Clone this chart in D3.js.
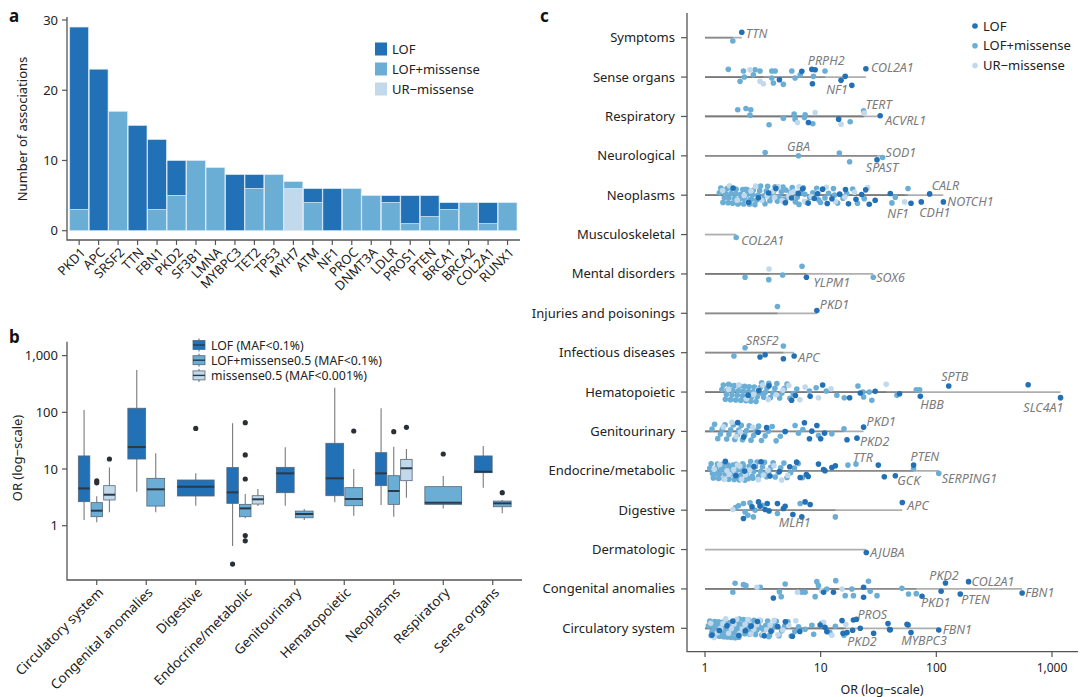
<!DOCTYPE html>
<html><head><meta charset="utf-8">
<script src="https://cdn.jsdelivr.net/npm/d3@7"></script>
<style>body{margin:0;background:#fff;}svg{font-family:"Noto Sans","Liberation Sans",Arial,sans-serif;}</style>
</head><body>
<svg id="fig" width="1080" height="697"></svg>
<script>
// ---------------- Panel a data ----------------
const genesA = ["PKD1","APC","SRSF2","TTN","FBN1","PKD2","SF3B1","LMNA","MYBPC3","TET2","TP53","MYH7","ATM","NF1","PROC","DNMT3A","LDLR","PROS1","PTEN","BRCA1","BRCA2","COL2A1","RUNX1"];
const countLOF    = [26,23,0,15,10,5,0,0,8,2,0,0,2,6,0,0,1,4,3,1,0,3,0];
const countLOFmis = [3,0,17,0,3,5,10,9,0,6,8,1,4,0,6,5,4,1,2,3,4,1,4];
const countURmis  = [0,0,0,0,0,0,0,0,0,0,0,6,0,0,0,0,0,0,0,0,0,0,0];
const ticksA = [0,10,20,30];

// ---------------- Panel b data ----------------
const catsB = ["Circulatory system","Congenital anomalies","Digestive","Endocrine/metabolic","Genitourinary","Hematopoietic","Neoplasms","Respiratory","Sense organs"];
const groupsB = ["LOF (MAF<0.1%)","LOF+missense0.5 (MAF<0.1%)","missense0.5 (MAF<0.001%)"];
// [category, group index, lower whisker, Q1, median, Q3, upper whisker]
const boxesB = [
  ["Circulatory system",0,1.26,2.65,4.55,17,110],
  ["Circulatory system",1,1.15,1.44,1.84,2.55,3.3],
  ["Circulatory system",2,1.72,2.84,3.52,5.08,10.6],
  ["Congenital anomalies",0,3.98,15,24.4,118,558],
  ["Congenital anomalies",1,1.72,2.22,4.38,6.85,18.9],
  ["Digestive",0,2.25,3.34,4.88,6.4,8.4],
  ["Endocrine/metabolic",0,0.44,2.48,3.87,10.6,64],
  ["Endocrine/metabolic",1,1.35,1.44,2.02,2.38,3.62],
  ["Endocrine/metabolic",2,2.22,2.41,2.92,3.38,4.44],
  ["Genitourinary",0,2.25,3.82,8.39,10.7,24.1],
  ["Genitourinary",1,1.26,1.38,1.61,1.81,1.97],
  ["Hematopoietic",0,2.58,3.38,6.85,28.4,272],
  ["Hematopoietic",1,1.5,2.25,2.96,4.69,10],
  ["Neoplasms",0,2.32,5.08,8.39,19.4,118],
  ["Neoplasms",1,1.44,2.38,4.09,7.62,24.8],
  ["Neoplasms",2,3.12,6.22,10.3,14.8,22.5],
  ["Respiratory",1,2.02,2.38,2.55,4.88,7.52],
  ["Sense organs",0,4.69,8.61,8.97,17,25.5],
  ["Sense organs",1,1.65,2.16,2.48,2.72,2.85]
];
// [category, group index, OR]
const outliersB = [
  ["Circulatory system",1,6.2],["Circulatory system",1,5.7],["Circulatory system",2,15.0],
  ["Digestive",0,52],
  ["Endocrine/metabolic",0,0.21],
  ["Endocrine/metabolic",1,65.7],["Endocrine/metabolic",1,17.7],["Endocrine/metabolic",1,6.66],["Endocrine/metabolic",1,0.67],["Endocrine/metabolic",1,0.54],
  ["Hematopoietic",1,46.8],
  ["Neoplasms",1,45.6],["Neoplasms",2,54.3],
  ["Respiratory",1,18.4],
  ["Sense organs",1,3.82]
];
const ticksB = [1,10,100,1000];

// ---------------- Panel c data ----------------
const catsC = ["Symptoms","Sense organs","Respiratory","Neurological","Neoplasms","Musculoskeletal","Mental disorders","Injuries and poisonings","Infectious diseases","Hematopoietic","Genitourinary","Endocrine/metabolic","Digestive","Dermatologic","Congenital anomalies","Circulatory system"];
const typesC = ["LOF","LOF+missense","UR\u2212missense"];
const ticksC = [1,10,100,1000];
// individual points: [OR, type(0 LOF,1 LOF+missense,2 UR-missense), jitter (-1..1), gene label]
const ptsSymptoms = [[1.74,1,0.33],[2.08,0,-0.54,"TTN"]];
const ptsSense = [[1.59,1,-0.77],[2.15,1,-0.6],[2.71,1,-0.73],[2.62,1,-0.23],[2.99,1,-0.6],[3.78,1,-0.6],[4.04,1,-0.6],[2.19,1,0],[2.01,1,0.43],[3.78,1,0.1],[3.9,1,0.6],[4.76,1,0.73],[5.63,1,-0.6],[6.01,1,0.1],[6.65,1,-0.23],[8.66,1,-0.07],[10.9,1,-0.6],
  [2.45,2,-0.73],[2.99,2,0.43],[3.2,2,0.67],
  [4.4,0,0.27],[6.87,0,-0.57],[8.39,0,-0.77,"PRPH2"],[8.96,0,-0.73],[8.49,0,0.67],[15.0,0,0.33],[16.3,0,-0.07],[18.6,0,0.83,"NF1"],[24.6,0,-0.83,"COL2A1"]];
const ptsRespiratory = [[1.92,1,-0.67],[2.26,1,-0.8],[2.49,1,-0.67],[2.45,1,-0.13],[3.58,1,0.83],[4.76,1,0.17],[5.9,1,-0.23],[6.01,1,0.27],[7.34,1,-0.17],[7.24,1,0.1],[8.56,1,0.73],[18.0,1,0.53],[23.5,1,-0.57,"TERT"],
  [6.3,2,0.6],[8.96,2,-0.4],[15.0,2,0.77],[23.8,2,-0.33],
  [7.84,0,0.6],[14.3,0,0.27],[32.7,0,-0.07,"ACVRL1"]];
const ptsNeuro = [[3.31,1,-0.33],[6.43,1,0,"GBA"],[14.5,1,-0.27],[17.8,1,0.6],[34.3,1,0.17,"SOD1"],[30.7,0,0.4,"SPAST"]];
const ptsNeoplasms = [[41.3,1,0.77],[44.2,1,0.2],[56.9,1,-0.67],[53.2,2,0.67],[29.6,0,0.5],[40.0,0,-0.17],[60.4,0,0.8,"NF1"],[74.1,0,0.67,"CDH1"],[87.5,0,-0.13,"CALR"],[115,0,0.67,"NOTCH1"]];
const ptsMusculo = [[1.86,1,0.3,"COL2A1"]];
const ptsMental = [[2.22,1,0.33],[3.58,2,-0.5],[3.56,1,0.57],[4.69,1,0.1],[6.9,1,-0.77],[28.5,1,0.33,"SOX6"],[7.53,0,0.33,"YLPM1"]];
const ptsInjuries = [[4.23,1,-0.67],[9.27,0,-0.27,"PKD1"]];
const ptsInfectious = [[1.78,1,0.33],[2.22,1,-0.5,"SRSF2"],[4.76,1,-0.67],[2.99,0,0.43],[3.31,0,0.2],[4.76,0,0.6],[5.9,0,0.33,"APC"]];
const ptsHemato = [[8.0,1,-0.1],[9.14,1,-0.43],[11.2,1,-0.1],[13.8,1,0.33],[16.0,1,0.57],[21.0,1,-0.6],[23.2,1,0],[23.5,1,0.5],[26.3,1,0],[27.7,1,0.83],[45.7,1,0.33],[67.1,1,-0.23],[71.7,1,-0.23],
  [7.34,2,-0.5],[9.57,2,0.57],[12.3,2,-0.33],[36.9,2,-0.77],
  [8.11,0,0.43],[10.4,0,-0.7],[17.8,0,0.57],[22.0,0,0.1],[29.6,0,-0.07],[48.1,0,0.17],[72.7,0,0.43,"HBB"],[128,0,-0.6,"SPTB"],[622,0,-0.73],[1185,0,0.56,"SLC4A1"]];
const ptsGenito = [[6.01,1,-0.6],[6.43,1,0.17],[7.02,1,-0.2],[9.57,1,0.4],[12.5,1,0.23],[15.9,1,-0.27],
  [4.93,0,0],[7.24,0,-0.87],[8.0,0,0.73],[8.39,0,-0.03],[9.27,0,-0.6],[10.0,0,0.73],[10.8,0,0.17],[16.9,0,0.83],[20.6,0,0.67,"PKD2"],[23.5,0,-0.43,"PKD1"]];
const ptsEndocrine = [[17.2,1,-0.57],[20.2,1,-0.67,"TTR"],[63.6,1,-0.23],[105,1,0.26,"SERPING1"],
  [7.53,0,0.37],[6.65,0,0.67],[9.57,0,-0.67],[10.6,0,-0.13],[10.9,0,0],[12.5,0,-0.33],[13.4,0,-0.5],[31.5,0,-0.57],[35.5,0,0.6],[44.2,0,0.5,"GCK"],[63.6,0,-0.57,"PTEN"]];
const ptsDigestive = [[1.74,2,-0.07],[1.84,1,-0.27],[1.95,1,-0.45],[2.15,1,-0.67],[2.22,1,0.17],[2.35,1,0.5],[2.45,1,-0.73],[2.62,1,0.67],[2.71,1,0],[3.12,1,-0.5],[4.23,1,0.33],[6.65,1,-0.67],[13.4,1,0.67],
  [2.15,0,0.83],[2.55,0,-0.33],[2.99,0,-0.4],[2.9,0,-0.83],[3.31,0,-0.07],[3.45,0,-0.67],[3.58,0,0.07],[4.23,0,-0.67],[4.76,0,-0.17],[4.93,0,-0.4],[5.75,0,0.43],[6.87,0,0.67,"MLH1"],[7.34,0,-0.83],[8.11,0,-0.57],[50.8,0,-0.77,"APC"]];
const ptsDermato = [[24.8,0,0.3,"AJUBA"]];
const ptsCongenital = [[1.74,1,0.33],[1.82,1,-0.57],[2.15,1,-0.43],[2.26,1,-0.33],[3.0,1,-0.17],[4.4,1,0.27],[4.56,1,0.77],[4.93,1,-0.5],[6.87,1,0.33],[7.34,1,0.33],[9.27,1,-0.73],[9.57,1,-0.33],[8.96,1,0.77],[11.3,1,0],[13.5,1,-0.83],[16.3,1,0.67],[18.6,1,0],[19.2,1,0.67],[25.9,1,-0.77],[26.8,1,0.23],[30.7,1,0.67],[50.4,1,-0.06],[57.5,1,0.5],[67.1,1,0.47],
  [2.81,2,-0.17],[6.3,2,0.33],[10.2,2,0.17],[15.3,2,0],
  [3.9,0,0.9],[10.6,0,0.33],[12.9,0,0.33],[23.5,0,-0.17],[23.5,0,0.83],[75.2,0,0.73,"PKD1"],[110,0,0.23],[120,0,-0.6,"PKD2"],[161,0,0.5,"PTEN"],[190,0,-0.73,"COL2A1"],[552,0,0.4,"FBN1"]];
const ptsCirculatory = [[7.34,1,0.1],[8.4,1,-0.3],[8.7,1,0.6],[10.2,1,-0.5],[12.0,1,0.4],[13.4,1,-0.2],[15.9,1,0.7],
  [10.6,2,-0.6],[12.5,2,0.7],[16.5,2,-0.4],
  [9.9,0,-0.33],[10.9,0,-0.1],[11.3,0,0.33],[15.3,0,-0.77],[15.6,0,0.5],[16.9,0,0.43],[18.9,0,0.2],[19.2,0,-0.83,"PROS"],[20.4,0,-0.9],[22.0,0,0],[28.7,0,0.5,"PKD2"],[38.2,0,-0.47],[39.4,0,0.13],[40.0,0,0.15],[55.8,0,-0.4],[57.0,0,-0.33],[60.4,0,0.43,"MYBPC3"],[105,0,0.17,"FBN1"]];
// dense clouds (too dense to resolve individual offsets): [OR, type]
const cloudNeoplasms = [
  [1.33,1],[1.37,1],[1.43,1],[1.47,1],[1.49,1],[1.55,1],[1.58,1],[1.61,1],[1.68,1],[1.71,1],[1.73,1],[1.8,1],[1.84,1],[1.86,1],[1.95,1],[2.0,1],[2.03,1],[2.12,1],[2.16,1],[2.2,1],[2.3,1],[2.33,1],[2.42,1],[2.46,1],[2.57,1],[2.61,1],[2.7,1],[2.8,1],[2.86,1],[2.97,1],[3.03,1],[3.18,1],[3.24,1],[3.39,1],[3.48,1],[3.64,1],[3.74,1],[3.92,1],[4.03,1],[4.22,1],[4.36,1],[4.57,1],[4.72,1],[4.97,1],[5.18,1],[5.47,1],[5.68,1],[6.04,1],[6.28,1],[6.72,1],[7.08,1],[7.52,1],[8.03,1],[8.55,1],[9.24,1],[9.97,1],[10.9,1],[11.7,1],[12.9,1],[14.0,1],[15.6,1],[16.8,1],[18.9,1],[20.8,1],[23.8,1],[1.52,1],[2.25,1],[3.3,1],[4.8,1],[7.3,1],[1.4,1],[1.92,1],[2.52,1],[3.55,1],[5.0,1],[6.5,1],[9.6,1],[13.2,1],
  [1.42,2],[1.63,2],[1.9,2],[2.18,2],[2.5,2],[2.74,2],[3.1,2],[3.45,2],[3.85,2],[4.3,2],[4.65,2],[5.3,2],[5.9,2],[6.5,2],[7.25,2],[8.3,2],[9.6,2],[11.2,2],[13.4,2],[16.2,2],[19.6,2],[25.5,2],[2.35,2],[4.0,2],[5.6,2],
  [1.75,0],[2.38,0],[2.9,0],[3.55,0],[4.1,0],[4.95,0],[5.6,0],[6.4,0],[7.0,0],[7.8,0],[8.8,0],[9.4,0],[10.4,0],[11.4,0],[12.5,0],[14.6,0],[16.4,0],[17.4,0],[20.2,0],[22.6,0],[24.5,0],[26.3,0]];
const cloudHemato = [
  [1.4,1],[1.44,1],[1.5,1],[1.53,1],[1.57,1],[1.63,1],[1.66,1],[1.71,1],[1.74,1],[1.79,1],[1.84,1],[1.9,1],[1.94,1],[2.0,1],[2.04,1],[2.11,1],[2.14,1],[2.2,1],[2.26,1],[2.31,1],[2.37,1],[2.41,1],[2.49,1],[2.54,1],[2.61,1],[2.67,1],[2.76,1],[2.83,1],[2.92,1],[3.01,1],[3.09,1],[3.22,1],[3.31,1],[3.43,1],[3.56,1],[3.68,1],[3.86,1],[4.02,1],[4.18,1],[4.42,1],[4.61,1],[4.84,1],[5.12,1],[5.42,1],[5.79,1],[6.22,1],[1.6,1],[2.45,1],[3.15,1],
  [1.6,2],[1.96,2],[2.29,2],[2.63,2],[2.86,2],[3.16,2],[3.52,2],[4.12,2],[4.71,2],[5.3,2],[6.6,2],
  [2.36,0],[2.92,0],[3.58,0],[5.61,0],[6.05,0]];
const cloudGenito = [
  [1.15,1],[1.21,1],[1.29,1],[1.36,1],[1.41,1],[1.49,1],[1.54,1],[1.61,1],[1.67,1],[1.76,1],[1.81,1],[1.91,1],[1.96,1],[2.06,1],[2.11,1],[2.21,1],[2.29,1],[2.41,1],[2.5,1],[2.63,1],[2.74,1],[2.91,1],[3.08,1],[3.31,1],[3.54,1],[3.81,1],[4.12,1],[4.48,1],[4.93,1],
  [1.44,2],[1.71,2],[1.86,2],[2.02,2],[2.59,2],
  [1.92,0],[2.16,0],[2.88,0],[3.41,0]];
const cloudEndocrine = [
  [1.1,1],[1.13,1],[1.18,1],[1.21,1],[1.24,1],[1.28,1],[1.31,1],[1.35,1],[1.38,1],[1.42,1],[1.46,1],[1.5,1],[1.53,1],[1.57,1],[1.61,1],[1.66,1],[1.7,1],[1.74,1],[1.79,1],[1.83,1],[1.88,1],[1.93,1],[1.98,1],[2.03,1],[2.09,1],[2.15,1],[2.21,1],[2.27,1],[2.34,1],[2.41,1],[2.48,1],[2.56,1],[2.64,1],[2.73,1],[2.82,1],[2.92,1],[3.03,1],[3.14,1],[3.27,1],[3.4,1],[3.55,1],[3.7,1],[3.88,1],[4.05,1],[4.3,1],[4.52,1],[4.81,1],[5.12,1],[5.5,1],[5.93,1],[6.4,1],[6.95,1],[1.26,1],[1.64,1],[2.12,1],[2.6,1],[1.16,1],[1.44,1],[1.86,1],[2.37,1],[3.2,1],
  [1.2,2],[1.34,2],[1.48,2],[1.62,2],[1.77,2],[1.91,2],[2.07,2],[2.24,2],[2.44,2],[2.66,2],[2.9,2],[3.2,2],[3.5,2],[3.95,2],[4.6,2],[5.2,2],[1.55,2],[2.0,2],
  [1.5,0],[1.85,0],[2.2,0],[2.65,0],[3.05,0],[3.65,0],[4.4,0],[5.4,0],[6.2,0],[7.8,0]];
const cloudCirculatory = [
  [1.07,1],[1.1,1],[1.13,1],[1.16,1],[1.19,1],[1.21,1],[1.24,1],[1.26,1],[1.29,1],[1.31,1],[1.34,1],[1.37,1],[1.39,1],[1.42,1],[1.45,1],[1.47,1],[1.5,1],[1.53,1],[1.56,1],[1.59,1],[1.62,1],[1.65,1],[1.68,1],[1.72,1],[1.75,1],[1.79,1],[1.82,1],[1.86,1],[1.9,1],[1.94,1],[1.98,1],[2.02,1],[2.07,1],[2.11,1],[2.16,1],[2.21,1],[2.26,1],[2.32,1],[2.38,1],[2.44,1],[2.5,1],[2.57,1],[2.65,1],[2.73,1],[2.81,1],[2.9,1],[3.0,1],[3.1,1],[3.22,1],[3.34,1],[3.48,1],[3.62,1],[3.78,1],[3.95,1],[4.14,1],[4.36,1],[4.6,1],[4.88,1],[5.2,1],[5.56,1],[5.98,1],[6.44,1],[1.23,1],[1.52,1],[1.84,1],[2.29,1],[2.86,1],[3.56,1],[1.15,1],[1.35,1],[1.6,1],[1.96,1],[2.41,1],[3.05,1],
  [1.12,2],[1.2,2],[1.28,2],[1.36,2],[1.43,2],[1.51,2],[1.6,2],[1.69,2],[1.78,2],[1.88,2],[1.99,2],[2.1,2],[2.22,2],[2.35,2],[2.49,2],[2.64,2],[2.8,2],[2.98,2],[3.18,2],[3.41,2],[3.66,2],[3.95,2],[4.28,2],[4.7,2],[5.3,2],[6.1,2],
  [1.15,0],[1.33,0],[1.55,0],[1.74,0],[1.96,0],[2.23,0],[2.5,0],[2.84,0],[3.25,0],[3.72,0],[4.25,0],[4.95,0],[5.7,0],[6.6,0]];

// ---------------- drawing ----------------
const COL = ["#2270b5","#6aaed6","#c2d9ec"];
const svg = d3.select("#fig");
const ink = "#222";
const axisCol = "#555";

[["a",9,22],["b",9,343],["c",540,22]].forEach(([t,x,y])=>svg.append("text").attr("x",x).attr("y",y).text(t).attr("font-weight","bold").attr("font-size",17).attr("fill","#111"));

// ===== Panel a =====
{
  const g = svg.append("g");
  const x = d3.scaleBand().domain(genesA).range([69.7,517]).paddingInner(0.03);
  const y = d3.scaleLinear().domain([0,30]).range([230.7,20]);
  const rows = genesA.map((gn,i)=>({gene:gn, ur:countURmis[i], lm:countLOFmis[i], lof:countLOF[i]}));
  const stack = d3.stack().keys(["ur","lm","lof"])(rows);
  const colByKey = {ur:COL[2], lm:COL[1], lof:COL[0]};
  stack.forEach(layer=>{
    g.selectAll(null).data(layer.filter(d=>d[1]>d[0])).join("rect")
      .attr("x",d=>x(d.data.gene)).attr("width",x.bandwidth())
      .attr("y",d=>y(d[1])).attr("height",d=>y(d[0])-y(d[1]))
      .attr("fill",colByKey[layer.key]).attr("stroke","#dcebf6").attr("stroke-width",0.7);
  });
  g.append("path").attr("d","M67,17V240H520").attr("fill","none").attr("stroke",axisCol).attr("stroke-width",1.3);
  ticksA.forEach(t=>{
    g.append("line").attr("x1",62).attr("x2",67).attr("y1",y(t)).attr("y2",y(t)).attr("stroke",axisCol).attr("stroke-width",1.2);
    g.append("text").attr("x",58).attr("y",y(t)).attr("dy","0.35em").attr("text-anchor","end").attr("font-size",13).attr("fill",ink).text(t);
  });
  genesA.forEach(gn=>{
    const cx = x(gn)+x.bandwidth()/2;
    g.append("line").attr("x1",cx).attr("x2",cx).attr("y1",240).attr("y2",245).attr("stroke",axisCol).attr("stroke-width",1.2);
    g.append("text").attr("transform",`translate(${cx+4},${250}) rotate(-45)`).attr("text-anchor","end").attr("dy","0.35em")
      .attr("font-size",13).attr("fill",ink).text(gn);
  });
  g.append("text").attr("transform","translate(27,129) rotate(-90)").attr("text-anchor","middle").attr("font-size",13).attr("fill",ink).text("Number of associations");
  typesC.forEach((t,i)=>{
    const ly = 49 + i*20;
    g.append("rect").attr("x",375).attr("y",ly-6.5).attr("width",12).attr("height",13).attr("fill",COL[i]);
    g.append("text").attr("x",392).attr("y",ly).attr("dy","0.35em").attr("font-size",13).attr("fill",ink).text(t);
  });
}

// ===== Panel b =====
{
  const g = svg.append("g");
  const x = d3.scaleBand().domain(catsB).range([72,517.5]);
  const y = d3.scaleLog().domain([0.135,1760]).range([575,341.7]);
  const dodgeW = 38;
  const groupsPresent = {};
  boxesB.forEach(b=>{(groupsPresent[b[0]] = groupsPresent[b[0]]||[]).push(b[1]);});
  const pos = (cat,gi)=>{
    const list = groupsPresent[cat].slice().sort();
    const n = list.length, w = dodgeW/n, k = list.indexOf(gi);
    const c = x(cat)+x.bandwidth()/2;
    return {x0: c - dodgeW/2 + k*w, w: w, cx: c - dodgeW/2 + (k+0.5)*w};
  };
  boxesB.forEach(b=>{
    const p = pos(b[0],b[1]);
    g.append("line").attr("x1",p.cx).attr("x2",p.cx).attr("y1",y(b[2])).attr("y2",y(b[3])).attr("stroke","#7a7a7a").attr("stroke-width",1.1);
    g.append("line").attr("x1",p.cx).attr("x2",p.cx).attr("y1",y(b[5])).attr("y2",y(b[6])).attr("stroke","#7a7a7a").attr("stroke-width",1.1);
  });
  boxesB.forEach(b=>{
    const p = pos(b[0],b[1]);
    g.append("rect").attr("x",p.x0+0.6).attr("width",p.w-1.2).attr("y",y(b[5])).attr("height",y(b[3])-y(b[5]))
      .attr("fill",COL[b[1]]).attr("stroke","#556677").attr("stroke-width",0.8);
    g.append("line").attr("x1",p.x0+0.6).attr("x2",p.x0+p.w-0.6).attr("y1",y(b[4])).attr("y2",y(b[4])).attr("stroke","#2b3a48").attr("stroke-width",2);
  });
  outliersB.forEach(o=>{
    const p = pos(o[0],o[1]);
    g.append("circle").attr("cx",p.cx).attr("cy",y(o[2])).attr("r",2.6).attr("fill","#2a2f36");
  });
  g.append("path").attr("d","M67,341.7V580H522").attr("fill","none").attr("stroke",axisCol).attr("stroke-width",1.3);
  ticksB.forEach(t=>{
    g.append("line").attr("x1",62).attr("x2",67).attr("y1",y(t)).attr("y2",y(t)).attr("stroke",axisCol).attr("stroke-width",1.2);
    g.append("text").attr("x",58).attr("y",y(t)).attr("dy","0.35em").attr("text-anchor","end").attr("font-size",13).attr("fill",ink).text(d3.format(",")(t));
  });
  catsB.forEach(c=>{
    const cx = x(c)+x.bandwidth()/2;
    g.append("line").attr("x1",cx).attr("x2",cx).attr("y1",580).attr("y2",585).attr("stroke",axisCol).attr("stroke-width",1.2);
    g.append("text").attr("transform",`translate(${cx+4},${590}) rotate(-45)`).attr("text-anchor","end").attr("dy","0.35em")
      .attr("font-size",13.5).attr("fill",ink).text(c);
  });
  g.append("text").attr("transform","translate(22,458) rotate(-90)").attr("text-anchor","middle").attr("font-size",13).attr("fill",ink).text("OR (log\u2212scale)");
  groupsB.forEach((t,i)=>{
    const ly = 345 + i*15.2;
    g.append("line").attr("x1",199).attr("x2",199).attr("y1",ly-6.5).attr("y2",ly+6.5).attr("stroke","#666").attr("stroke-width",1);
    g.append("rect").attr("x",193).attr("y",ly-4.5).attr("width",12).attr("height",9).attr("fill",COL[i]).attr("stroke","#556677").attr("stroke-width",0.8);
    g.append("line").attr("x1",193).attr("x2",205).attr("y1",ly).attr("y2",ly).attr("stroke","#2b3a48").attr("stroke-width",1.4);
    g.append("text").attr("x",211).attr("y",ly).attr("dominant-baseline","central").attr("font-size",12.3).attr("fill",ink).text(t);
  });
}

// ===== Panel c =====
{
  const g = svg.append("g");
  const x = d3.scaleLog().domain([1,1000]).range([705,1052]);
  const y = d3.scalePoint().domain(catsC).range([37.7,628.3]);
  const ptsByCat = {
    "Symptoms":ptsSymptoms,"Sense organs":ptsSense,"Respiratory":ptsRespiratory,"Neurological":ptsNeuro,
    "Neoplasms":ptsNeoplasms,"Musculoskeletal":ptsMusculo,"Mental disorders":ptsMental,"Injuries and poisonings":ptsInjuries,
    "Infectious diseases":ptsInfectious,"Hematopoietic":ptsHemato,"Genitourinary":ptsGenito,"Endocrine/metabolic":ptsEndocrine,
    "Digestive":ptsDigestive,"Dermatologic":ptsDermato,"Congenital anomalies":ptsCongenital,"Circulatory system":ptsCirculatory};
  const cloudByCat = {"Neoplasms":cloudNeoplasms,"Hematopoietic":cloudHemato,"Genitourinary":cloudGenito,"Endocrine/metabolic":cloudEndocrine,"Circulatory system":cloudCirculatory};
  const all = [];
  catsC.forEach(c=>{
    (cloudByCat[c]||[]).forEach((p,k)=>{
      const j = ((k*0.7548776662 + 0.37) % 1)*2 - 1;   // deterministic spread within the row
      all.push({cat:c, or:p[0], t:p[1], j:j*0.95});
    });
    ptsByCat[c].forEach(p=>all.push({cat:c, or:p[0], t:p[1], j:p[2], lab:p[3]}));
  });
  catsC.forEach(c=>{
    [0,1,2].forEach(t=>{
      const v = all.filter(d=>d.cat===c && d.t===t).map(d=>d.or);
      if(!v.length) return;
      g.append("line").attr("x1",x(1)).attr("x2",x(d3.max(v))).attr("y1",y(c)).attr("y2",y(c))
        .attr("stroke","#6e6e6e").attr("stroke-opacity",0.55).attr("stroke-width",1.8);
    });
  });
  const order = [1,2,0];
  const sorted = all.slice().sort((a,b)=>order.indexOf(a.t)-order.indexOf(b.t));
  g.selectAll("circle.pt").data(sorted).join("circle").attr("class","pt")
    .attr("cx",d=>x(d.or)).attr("cy",d=>y(d.cat)+d.j*10).attr("r",2.8).attr("fill",d=>COL[d.t]);
  const labelPlace = {
    "Symptoms|TTN":[4,1,"start"],"Sense organs|PRPH2":[-4,-9,"start"],"Sense organs|COL2A1":[5,-1,"start"],"Sense organs|NF1":[-4,4,"end"],
    "Respiratory|TERT":[2,-6,"start"],"Respiratory|ACVRL1":[5,5,"start"],"Neurological|GBA":[0,-9,"middle"],"Neurological|SOD1":[3,-5,"start"],
    "Neurological|SPAST":[5,8,"middle"],"Neoplasms|CALR":[2,-8,"start"],"Neoplasms|NOTCH1":[4,0,"start"],"Neoplasms|NF1":[-2,10,"end"],
    "Neoplasms|CDH1":[-2,11,"start"],"Musculoskeletal|COL2A1":[5,3,"start"],"Mental disorders|YLPM1":[7,5,"start"],"Mental disorders|SOX6":[3,0,"start"],
    "Injuries and poisonings|PKD1":[3,-6,"start"],"Infectious diseases|SRSF2":[1,-7,"start"],"Infectious diseases|APC":[4,2,"start"],
    "Hematopoietic|SPTB":[6,-9,"middle"],"Hematopoietic|HBB":[0,8,"start"],"Hematopoietic|SLC4A1":[3,10,"end"],
    "Genitourinary|PKD1":[3,-6,"start"],"Genitourinary|PKD2":[3,3,"start"],"Endocrine/metabolic|TTR":[-3,-6,"start"],
    "Endocrine/metabolic|PTEN":[-3,-8,"start"],"Endocrine/metabolic|GCK":[2,5,"start"],"Endocrine/metabolic|SERPING1":[3,5,"start"],
    "Digestive|APC":[5,3,"start"],"Digestive|MLH1":[-7,6,"middle"],"Dermatologic|AJUBA":[4,0,"start"],
    "Congenital anomalies|PKD2":[-1.5,-7,"middle"],"Congenital anomalies|COL2A1":[3,0,"start"],"Congenital anomalies|PKD1":[-1,6,"start"],
    "Congenital anomalies|PTEN":[1,6,"start"],"Congenital anomalies|FBN1":[3,0,"start"],"Circulatory system|PROS":[4,-5,"start"],
    "Circulatory system|PKD2":[3,8,"end"],"Circulatory system|MYBPC3":[13,8,"middle"],"Circulatory system|FBN1":[4,0,"start"]};
  all.filter(d=>d.lab).forEach(d=>{
    const pl = labelPlace[d.cat+"|"+d.lab] || [4,0,"start"];
    g.append("text").attr("x",x(d.or)+pl[0]).attr("y",y(d.cat)+d.j*10+pl[1]).attr("dy","0.35em").attr("text-anchor",pl[2])
      .attr("font-size",12.5).attr("font-style","italic").attr("fill","#7a7a7a").text(d.lab);
  });
  g.append("path").attr("d","M687,13V651.7H1078").attr("fill","none").attr("stroke",axisCol).attr("stroke-width",1.3);
  catsC.forEach(c=>{
    g.append("line").attr("x1",681).attr("x2",687).attr("y1",y(c)).attr("y2",y(c)).attr("stroke",axisCol).attr("stroke-width",1.2);
    g.append("text").attr("x",675).attr("y",y(c)).attr("dy","0.35em").attr("text-anchor","end").attr("font-size",13).attr("fill",ink).text(c);
  });
  ticksC.forEach(t=>{
    g.append("line").attr("x1",x(t)).attr("x2",x(t)).attr("y1",651.7).attr("y2",657).attr("stroke",axisCol).attr("stroke-width",1.2);
    g.append("text").attr("x",x(t)).attr("y",668).attr("dy","0.35em").attr("text-anchor","middle").attr("font-size",12).attr("fill",ink).text(d3.format(",")(t));
  });
  g.append("text").attr("x",882).attr("y",690).attr("dy","0.35em").attr("text-anchor","middle").attr("font-size",12.5).attr("fill",ink).text("OR (log\u2212scale)");
  typesC.forEach((t,i)=>{
    const ly = 26 + i*19.8;
    g.append("circle").attr("cx",975).attr("cy",ly).attr("r",2.8).attr("fill",COL[i]);
    g.append("text").attr("x",983).attr("y",ly).attr("dy","0.35em").attr("font-size",13).attr("fill",ink).text(t);
  });
}
</script>
</body></html>
